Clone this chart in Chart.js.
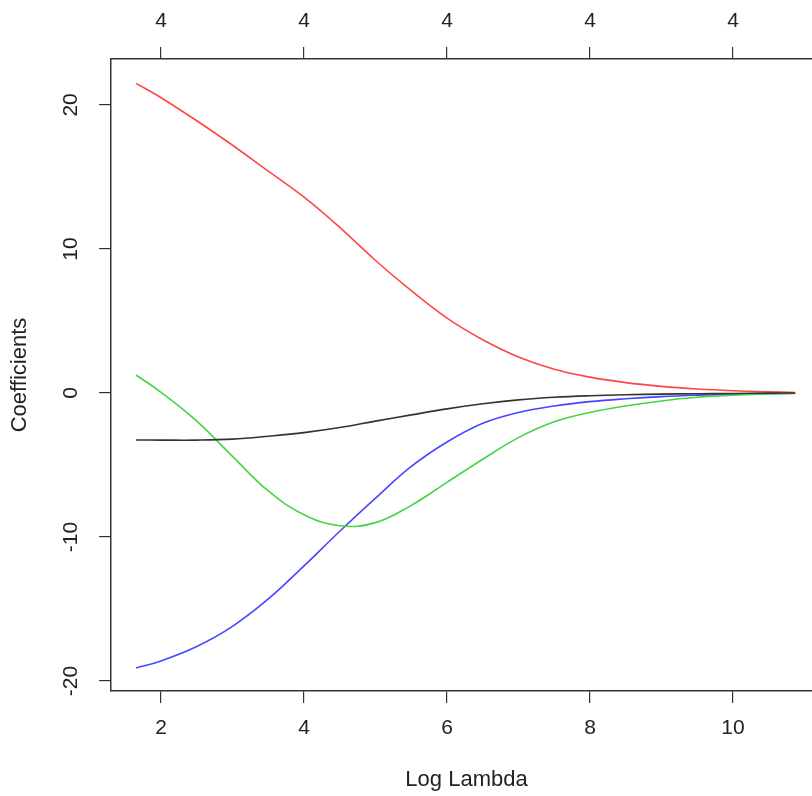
<!DOCTYPE html>
<html>
<head>
<meta charset="utf-8">
<script src="https://cdn.jsdelivr.net/npm/chart.js@4"></script>
<style>
  html, body { margin: 0; padding: 0; background: #fff; overflow: hidden; }
</style>
</head>
<body>
<canvas id="pathChart" width="830" height="796"></canvas>
<script>
// log lambda grid the paths were read at
const logLambda = [1.65, 2, 2.5, 3, 3.5, 4, 4.5, 5, 5.5, 6, 6.5, 7, 7.5, 8, 8.5, 9, 9.5, 10, 10.5, 10.87]

// coefficient paths, one per variable
const coefBlack = [-3.26, -3.27, -3.27, -3.2, -3.0, -2.75, -2.4, -1.95, -1.52, -1.1, -0.75, -0.48, -0.3, -0.19, -0.12, -0.08, -0.05, -0.03, -0.01, 0]
const coefRed = [21.5, 20.5, 18.9, 17.2, 15.4, 13.6, 11.5, 9.2, 7.1, 5.2, 3.7, 2.5, 1.65, 1.1, 0.72, 0.46, 0.28, 0.16, 0.08, 0.04]
const coefGreen = [1.25, 0.05, -1.95, -4.4, -6.8, -8.45, -9.22, -9.0, -7.8, -6.2, -4.6, -3.1, -2.0, -1.35, -0.9, -0.55, -0.3, -0.15, -0.07, -0.03]
const coefBlue = [-19.1, -18.6, -17.6, -16.2, -14.3, -12.0, -9.6, -7.3, -5.1, -3.4, -2.1, -1.35, -0.9, -0.6, -0.4, -0.25, -0.15, -0.08, -0.04, -0.02]

// ticks
const xTicks = [2, 4, 6, 8, 10]
const yTicks = [-20, -10, 0, 10, 20]
const topLabel = '4'   // number of non-zero coefficients

const axisColor = '#333333'
const fontFamily = '"Liberation Sans", Arial, sans-serif'

function toPoints(ys) {
	var pts = []
	for (var i = 0; i < logLambda.length; i++) {
		pts.push({ x: logLambda[i], y: ys[i] })
	}
	return pts
}

function pathDataset(label, ys, color) {
	return {
		label: label,
		data: toPoints(ys),
		borderColor: color,
		borderWidth: 1.6,
		pointRadius: 0,
		fill: false,
		tension: 0.4,
		xAxisID: 'x',
		yAxisID: 'y'
	}
}

function fixedTicks(values) {
	return function (scale) {
		scale.ticks = values.map(function (v) { return { value: v } })
	}
}

var ctx = document.getElementById('pathChart')

var chart = new Chart(ctx, {
	type: 'line',
	data: {
		datasets: [
			pathDataset('V1', coefBlack, '#333333'),
			pathDataset('V2', coefRed, '#ff4646'),
			pathDataset('V3', coefGreen, '#46d446'),
			pathDataset('V4', coefBlue, '#4646ff')
		]
	},
	options: {
		responsive: false,
		animation: false,
		layout: { padding: { left: 0, right: 8, top: 0, bottom: 0 } },
		plugins: {
			legend: { display: false },
			tooltip: { enabled: false }
		},
		scales: {
			x: {
				type: 'linear',
				position: 'bottom',
				min: 1.30,
				max: 11.245,
				afterBuildTicks: fixedTicks(xTicks),
				afterFit: function (scale) { scale.height = 105 },
				border: { display: true, color: axisColor, width: 1.5 },
				grid: { drawOnChartArea: false, drawTicks: true, tickLength: 12, color: axisColor, lineWidth: 1.2 },
				ticks: { color: '#222', padding: 13, font: { family: fontFamily, size: 21 } },
				title: {
					display: true,
					text: 'Log Lambda',
					color: '#222',
					padding: { top: 0, bottom: 3 },
					font: { family: fontFamily, size: 22 }
				}
			},
			x2: {
				type: 'linear',
				position: 'top',
				min: 1.30,
				max: 11.245,
				afterBuildTicks: fixedTicks(xTicks),
				afterFit: function (scale) { scale.height = 59 },
				border: { display: true, color: axisColor, width: 1.5 },
				grid: { drawOnChartArea: false, drawTicks: true, tickLength: 12, color: axisColor, lineWidth: 1.2 },
				ticks: {
					color: '#222',
					padding: 13,
					font: { family: fontFamily, size: 21 },
					callback: function () { return topLabel }
				}
			},
			y: {
				type: 'linear',
				position: 'left',
				min: -20.69,
				max: 23.19,
				afterBuildTicks: fixedTicks(yTicks),
				afterFit: function (scale) { scale.width = 111 },
				border: { display: true, color: axisColor, width: 1.5 },
				grid: { drawOnChartArea: false, drawTicks: true, tickLength: 12, color: axisColor, lineWidth: 1.2 },
				ticks: {
					color: '#222',
					padding: 13,
					minRotation: 90,
					maxRotation: 90,
					crossAlign: 'center',
					font: { family: fontFamily, size: 21 }
				},
				title: {
					display: true,
					text: 'Coefficients',
					color: '#222',
					padding: { top: 7, bottom: 0 },
					font: { family: fontFamily, size: 22 }
				}
			}
		}
	}
})
</script>
</body>
</html>
